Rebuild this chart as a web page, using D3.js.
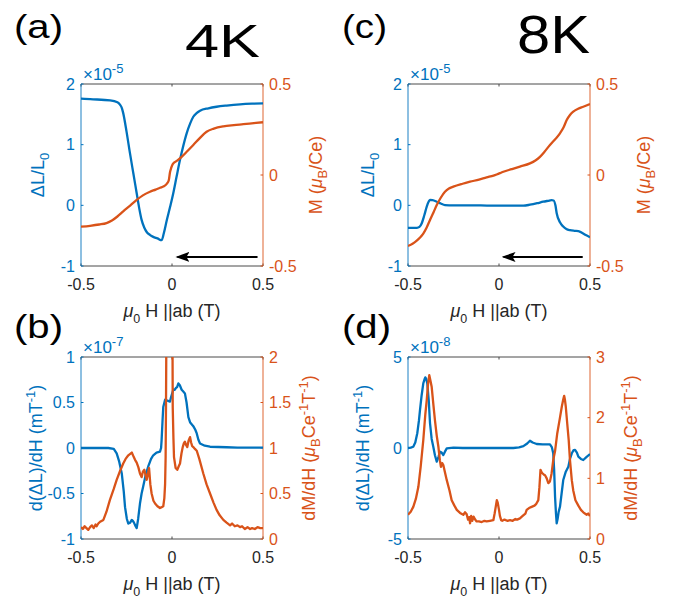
<!DOCTYPE html>
<html><head><meta charset="utf-8">
<script src="https://cdn.jsdelivr.net/npm/d3@7"></script>
<style>
html,body{margin:0;padding:0;background:#fff;}
svg{display:block;}
text{font-family:"Liberation Sans",Arial,sans-serif;}
</style></head>
<body>
<svg id="chart" width="673" height="598"></svg>
<script>
// ---------- DATA ----------
const xTicks = [-0.5, 0, 0.5];
const xTickLabels = ["-0.5", "0", "0.5"];

// Panel (a) 4K
const aH_dL = [-0.5,-0.45,-0.34,-0.3,-0.286,-0.275,-0.268,-0.25,-0.231,-0.212,-0.194,-0.18,-0.167,-0.152,-0.139,-0.12,-0.103,-0.08,-0.057,-0.045,-0.029,-0.01,0.007,0.025,0.044,0.062,0.081,0.1,0.117,0.135,0.154,0.2,0.245,0.3,0.374,0.44,0.5];
const aV_dL = [1.76,1.75,1.73,1.70,1.66,1.60,1.52,1.22,0.86,0.52,0.20,-0.05,-0.24,-0.37,-0.44,-0.49,-0.52,-0.545,-0.575,-0.46,-0.25,-0.02,0.2,0.47,0.75,0.98,1.19,1.35,1.46,1.52,1.56,1.60,1.625,1.645,1.665,1.675,1.68];
const aH_M = [-0.5,-0.45,-0.4,-0.36,-0.33,-0.3,-0.268,-0.23,-0.194,-0.16,-0.121,-0.09,-0.066,-0.045,-0.029,-0.018,-0.011,-0.004,0.004,0.03,0.053,0.085,0.117,0.15,0.19,0.23,0.282,0.34,0.392,0.45,0.5];
const aM_M = [-0.284,-0.279,-0.272,-0.264,-0.25,-0.228,-0.2,-0.168,-0.137,-0.112,-0.092,-0.08,-0.07,-0.062,-0.049,-0.03,0.015,0.04,0.06,0.08,0.1,0.132,0.165,0.2,0.238,0.255,0.267,0.274,0.279,0.285,0.29];
const aArrow = [0.47, 0.03, -0.85];

// Panel (c) 8K
const cH_dL = [-0.5,-0.451,-0.437,-0.425,-0.41,-0.397,-0.385,-0.379,-0.365,-0.342,-0.32,-0.297,-0.25,-0.2,-0.1,-0.013,0.05,0.134,0.17,0.21,0.243,0.27,0.289,0.3,0.31,0.317,0.335,0.353,0.37,0.39,0.415,0.436,0.46,0.48,0.5];
const cV_dL = [-0.37,-0.37,-0.355,-0.3,-0.16,-0.02,0.07,0.088,0.085,0.06,0.03,0.005,0.0,0.0,-0.002,-0.005,-0.005,-0.005,0.01,0.035,0.06,0.075,0.085,0.08,0.0,-0.13,-0.28,-0.35,-0.39,-0.41,-0.42,-0.425,-0.46,-0.495,-0.527];
const cH_M = [-0.5,-0.475,-0.452,-0.435,-0.416,-0.398,-0.379,-0.36,-0.342,-0.32,-0.297,-0.275,-0.251,-0.2,-0.159,-0.11,-0.068,-0.03,-0.013,0.005,0.024,0.07,0.115,0.17,0.2,0.225,0.25,0.28,0.31,0.335,0.355,0.372,0.39,0.408,0.435,0.463,0.5];
const cM_M = [-0.39,-0.378,-0.361,-0.345,-0.322,-0.29,-0.247,-0.206,-0.165,-0.125,-0.092,-0.074,-0.064,-0.048,-0.037,-0.025,-0.013,-0.003,0.003,0.01,0.018,0.032,0.046,0.064,0.08,0.1,0.128,0.165,0.198,0.229,0.262,0.302,0.33,0.348,0.364,0.375,0.39];
const cArrow = [0.46, 0.025, -0.85];

// Panel (b) 4K derivatives
const bH_dL = [-0.5,-0.35,-0.32,-0.304,-0.29,-0.276,-0.265,-0.258,-0.248,-0.24,-0.23,-0.221,-0.215,-0.209,-0.2,-0.194,-0.186,-0.176,-0.167,-0.158,-0.145,-0.13,-0.115,-0.103,-0.085,-0.066,-0.06,-0.057,-0.052,-0.048,-0.038,-0.025,-0.011,-0.005,0.007,0.015,0.022,0.028,0.035,0.043,0.053,0.062,0.071,0.08,0.09,0.1,0.117,0.128,0.136,0.145,0.154,0.18,0.209,0.3,0.36,0.5];
const bV_dL = [0,0,-0.01,-0.06,-0.15,-0.28,-0.48,-0.65,-0.78,-0.83,-0.82,-0.79,-0.8,-0.82,-0.86,-0.88,-0.78,-0.61,-0.5,-0.42,-0.3,-0.2,-0.12,-0.08,-0.05,-0.04,0.0,0.09,0.3,0.45,0.53,0.52,0.51,0.56,0.64,0.64,0.66,0.67,0.71,0.69,0.64,0.62,0.6,0.5,0.34,0.28,0.24,0.2,0.16,0.09,0.05,0.025,0.014,0.008,0.005,0.005];
const bH_dM = [-0.5,-0.49,-0.48,-0.47,-0.46,-0.45,-0.44,-0.43,-0.42,-0.414,-0.405,-0.395,-0.377,-0.36,-0.341,-0.32,-0.304,-0.285,-0.268,-0.255,-0.24,-0.221,-0.21,-0.203,-0.194,-0.185,-0.176,-0.167,-0.16,-0.152,-0.145,-0.139,-0.132,-0.126,-0.119,-0.112,-0.102,-0.093,-0.08,-0.066,-0.057,-0.048,-0.042,-0.038,-0.035,-0.033,-0.03,-0.026,-0.015,-0.002,0.002,0.004,0.008,0.011,0.02,0.029,0.037,0.044,0.052,0.059,0.065,0.071,0.078,0.084,0.091,0.099,0.105,0.111,0.117,0.126,0.136,0.15,0.172,0.19,0.209,0.228,0.245,0.262,0.282,0.3,0.319,0.33,0.345,0.36,0.374,0.385,0.4,0.415,0.429,0.44,0.455,0.47,0.485,0.5];
const bM_dM = [0.13,0.11,0.14,0.12,0.1,0.13,0.15,0.12,0.16,0.14,0.17,0.19,0.21,0.3,0.43,0.55,0.65,0.75,0.83,0.88,0.92,0.95,0.9,0.87,0.84,0.79,0.72,0.68,0.74,0.76,0.7,0.65,0.72,0.78,0.6,0.5,0.42,0.39,0.36,0.34,0.35,0.36,0.45,0.6,0.9,1.45,2.6,3.2,3.2,3.0,2.6,1.45,1.1,0.9,0.78,0.76,0.8,0.83,0.94,1.01,1.05,1.07,1.03,1.01,1.08,1.12,1.06,1.02,1.01,0.99,0.97,0.88,0.72,0.6,0.5,0.4,0.32,0.26,0.21,0.18,0.15,0.17,0.14,0.15,0.13,0.14,0.11,0.13,0.11,0.12,0.11,0.13,0.12,0.12];

// Panel (d) 8K derivatives
const dH_dL = [-0.5,-0.485,-0.471,-0.46,-0.449,-0.44,-0.434,-0.425,-0.416,-0.41,-0.405,-0.4,-0.394,-0.386,-0.379,-0.37,-0.361,-0.352,-0.342,-0.333,-0.324,-0.315,-0.306,-0.297,-0.287,-0.25,-0.2,-0.1,0.0,0.079,0.11,0.134,0.155,0.17,0.185,0.207,0.24,0.28,0.29,0.298,0.303,0.308,0.313,0.317,0.322,0.328,0.335,0.344,0.353,0.367,0.381,0.39,0.4,0.41,0.418,0.428,0.436,0.45,0.463,0.48,0.5];
const dV_dL = [0.0,0.02,0.07,0.3,0.81,1.5,2.09,2.9,3.55,3.75,3.88,3.8,3.55,2.6,1.36,0.5,0.07,-0.4,-0.75,-0.5,-0.2,-0.25,-0.385,-0.2,-0.02,0.02,0.0,0.0,0.0,0.0,0.03,0.1,0.25,0.4,0.3,0.22,0.2,0.2,0.05,-0.29,-1.2,-2.68,-3.6,-4.14,-3.9,-3.5,-3.23,-2.5,-1.76,-1.3,-1.03,-0.6,-0.29,-0.12,-0.11,-0.25,-0.48,-0.6,-0.66,-0.5,-0.33];
const dH_dM = [-0.5,-0.485,-0.471,-0.457,-0.443,-0.43,-0.416,-0.405,-0.397,-0.39,-0.383,-0.376,-0.37,-0.36,-0.352,-0.342,-0.333,-0.325,-0.319,-0.312,-0.306,-0.297,-0.287,-0.272,-0.26,-0.245,-0.232,-0.214,-0.196,-0.187,-0.178,-0.17,-0.164,-0.159,-0.153,-0.147,-0.14,-0.131,-0.123,-0.11,-0.095,-0.08,-0.068,-0.05,-0.031,-0.024,-0.018,-0.012,-0.007,0.0,0.005,0.012,0.018,0.03,0.045,0.061,0.075,0.09,0.1,0.115,0.13,0.145,0.152,0.165,0.179,0.195,0.205,0.216,0.222,0.228,0.234,0.24,0.247,0.253,0.262,0.271,0.28,0.289,0.298,0.308,0.32,0.335,0.345,0.353,0.358,0.362,0.367,0.375,0.383,0.39,0.4,0.408,0.42,0.436,0.45,0.463,0.472,0.482,0.49,0.5];
const dM_dM = [0.4,0.45,0.53,0.66,0.86,1.2,1.63,2.05,2.29,2.55,2.7,2.6,2.51,2.2,1.96,1.7,1.52,1.3,1.19,1.25,1.22,1.1,0.97,0.8,0.64,0.55,0.48,0.43,0.4,0.44,0.41,0.32,0.36,0.26,0.38,0.3,0.37,0.32,0.29,0.29,0.28,0.3,0.29,0.3,0.31,0.42,0.53,0.64,0.6,0.48,0.38,0.31,0.3,0.32,0.3,0.31,0.3,0.33,0.32,0.34,0.38,0.42,0.48,0.51,0.53,0.55,0.58,0.64,0.85,1.14,1.1,1.08,1.06,1.05,1.0,0.92,0.95,1.08,1.3,1.45,1.74,2.0,2.18,2.3,2.36,2.3,2.18,1.9,1.63,1.3,0.97,0.8,0.64,0.55,0.48,0.44,0.42,0.4,0.42,0.38];

// axis tick sets
const yTicksA_L = [-1, 0, 1, 2];           const yLabelsA_L = ["-1","0","1","2"];
const yTicksA_R = [-0.5, 0, 0.5];          const yLabelsA_R = ["-0.5","0","0.5"];
const yTicksB_L = [-1,-0.5,0,0.5,1];       const yLabelsB_L = ["-1","-0.5","0","0.5","1"];
const yTicksB_R = [0,0.5,1,1.5,2];         const yLabelsB_R = ["0","0.5","1","1.5","2"];
const yTicksD_L = [-5,0,5];                const yLabelsD_L = ["-5","0","5"];
const yTicksD_R = [0,1,2,3];               const yLabelsD_R = ["0","1","2","3"];

// ---------- DRAWING ----------
const BLUE = "#0072BD", ORANGE = "#D95319";
const svg = d3.select("#chart");
const defs = svg.append("defs");
defs.append("marker").attr("id","ah").attr("viewBox","0 0 14 11").attr("refX",12).attr("refY",5.5)
  .attr("markerWidth",14).attr("markerHeight",11).attr("markerUnits","userSpaceOnUse").attr("orient","auto")
  .append("path").attr("d","M0,0.5 L14,5.5 L0,10.5 L3,5.5 Z").attr("fill","#000");

function zip(a,b){ return a.map((v,i)=>[v,b[i]]); }

function panel(o){
  const W = 182, H = 182;
  const g = svg.append("g").attr("transform",`translate(${o.left},${o.top})`);
  const x = d3.scaleLinear().domain([-0.5,0.5]).range([0,W]);
  const yL = d3.scaleLinear().domain(o.yLdom).range([H,0]);
  const yR = d3.scaleLinear().domain(o.yRdom).range([H,0]);
  const cid = "clip"+o.id;
  defs.append("clipPath").attr("id",cid).append("rect").attr("x",0).attr("y",0).attr("width",W).attr("height",H);

  // top/bottom spines + ticks
  g.append("line").attr("x1",0).attr("x2",W).attr("y1",0).attr("y2",0).attr("stroke","#4a4a4a").attr("stroke-width",1);
  g.append("line").attr("x1",0).attr("x2",W).attr("y1",H).attr("y2",H).attr("stroke","#4a4a4a").attr("stroke-width",1);
  xTicks.forEach((t,i)=>{
    g.append("line").attr("x1",x(t)).attr("x2",x(t)).attr("y1",H).attr("y2",H-2.5).attr("stroke","#4a4a4a");
    g.append("line").attr("x1",x(t)).attr("x2",x(t)).attr("y1",0).attr("y2",2.5).attr("stroke","#4a4a4a");
    g.append("text").attr("x",x(t)).attr("y",H+24).attr("text-anchor","middle")
      .style("font-size","16px").attr("fill","#262626").text(xTickLabels[i]);
  });
  // left axis
  g.append("line").attr("x1",0).attr("x2",0).attr("y1",0).attr("y2",H).attr("stroke",BLUE).attr("stroke-opacity",0.75).attr("stroke-width",1.2);
  o.yLticks.forEach((t,i)=>{
    g.append("line").attr("x1",0).attr("x2",2.5).attr("y1",yL(t)).attr("y2",yL(t)).attr("stroke",BLUE);
    g.append("text").attr("x",-6).attr("y",yL(t)).attr("dy","0.36em").attr("text-anchor","end")
      .style("font-size","16px").attr("fill",BLUE).text(o.yLlabels[i]);
  });
  // right axis
  g.append("line").attr("x1",W).attr("x2",W).attr("y1",0).attr("y2",H).attr("stroke",ORANGE).attr("stroke-opacity",0.75).attr("stroke-width",1.2);
  o.yRticks.forEach((t,i)=>{
    g.append("line").attr("x1",W).attr("x2",W-2.5).attr("y1",yR(t)).attr("y2",yR(t)).attr("stroke",ORANGE);
    g.append("text").attr("x",W+6).attr("y",yR(t)).attr("dy","0.36em").attr("text-anchor","start")
      .style("font-size","16px").attr("fill",ORANGE).text(o.yRlabels[i]);
  });
  // exponent
  const ex = g.append("text").attr("x",2).attr("y",-4).style("font-size","17px").attr("fill",BLUE);
  ex.append("tspan").text("×10");
  ex.append("tspan").attr("dy",-7).style("font-size","13px").text(o.exp);

  // data
  const plot = g.append("g").attr("clip-path",`url(#${cid})`);
  const curve = o.smooth ? d3.curveMonotoneX : d3.curveLinear;
  const lineL = d3.line().x(d=>x(d[0])).y(d=>yL(d[1])).curve(curve);
  const lineR = d3.line().x(d=>x(d[0])).y(d=>yR(d[1])).curve(curve);
  plot.append("path").attr("d",lineL(o.blue)).attr("fill","none").attr("stroke",BLUE).attr("stroke-width",2.3).attr("stroke-linejoin","round");
  plot.append("path").attr("d",lineR(o.orange)).attr("fill","none").attr("stroke",ORANGE).attr("stroke-width",2.3).attr("stroke-linejoin","round");
  if(o.arrow){
    g.append("line").attr("x1",x(o.arrow[0])).attr("x2",x(o.arrow[1]))
      .attr("y1",yL(o.arrow[2])).attr("y2",yL(o.arrow[2]))
      .attr("stroke","#000").attr("stroke-width",2).attr("marker-end","url(#ah)");
  }

  // x label
  const xl = g.append("text").attr("x",W/2).attr("y",H+51).attr("text-anchor","middle").style("font-size","18px").attr("fill","#262626");
  xl.append("tspan").attr("font-style","italic").text("μ");
  xl.append("tspan").attr("dy",6).style("font-size","12.5px").text("0");
  xl.append("tspan").attr("dy",-6).text(" H ||ab (T)");

  // y labels
  const ll = g.append("text").attr("transform",`translate(${o.lLabX},${H/2}) rotate(-90)`).attr("text-anchor","middle")
    .style("font-size","18px").attr("fill",BLUE);
  o.lLab(ll);
  const rl = g.append("text").attr("transform",`translate(${o.rLabX},${H/2}) rotate(-90)`).attr("text-anchor","middle")
    .style("font-size","18px").attr("fill",ORANGE);
  o.rLab(rl);
}

function sub(t,s){ t.append("tspan").attr("dy",5).style("font-size","13px").text(s); }
function sup(t,s){ t.append("tspan").attr("dy",-7).style("font-size","13px").text(s); }
function labDL(t){
  t.append("tspan").text("ΔL/L");
  sub(t,"0");
}
function labM(t){
  t.append("tspan").text("M (");
  t.append("tspan").attr("font-style","italic").text("μ");
  sub(t,"B");
  t.append("tspan").attr("dy",-5).text("/Ce)");
}
function labdDL(t){
  t.append("tspan").text("d(ΔL)/dH (mT");
  sup(t,"-1");
  t.append("tspan").attr("dy",7).text(")");
}
function labdM(t){
  t.append("tspan").text("dM/dH (");
  t.append("tspan").attr("font-style","italic").text("μ");
  sub(t,"B");
  t.append("tspan").attr("dy",-5).text("Ce");
  sup(t,"-1");
  t.append("tspan").attr("dy",7).text("T");
  sup(t,"-1");
  t.append("tspan").attr("dy",7).text(")");
}

panel({id:"a",left:81,top:84,yLdom:[-1,2],yRdom:[-0.5,0.5],yLticks:yTicksA_L,yLlabels:yLabelsA_L,
  yRticks:yTicksA_R,yRlabels:yLabelsA_R,exp:"-5",smooth:true,blue:zip(aH_dL,aV_dL),orange:zip(aH_M,aM_M),
  arrow:aArrow,lLabX:-37,rLabX:241,lLab:labDL,rLab:labM});
panel({id:"c",left:408,top:84,yLdom:[-1,2],yRdom:[-0.5,0.5],yLticks:yTicksA_L,yLlabels:yLabelsA_L,
  yRticks:yTicksA_R,yRlabels:yLabelsA_R,exp:"-5",smooth:true,blue:zip(cH_dL,cV_dL),orange:zip(cH_M,cM_M),
  arrow:cArrow,lLabX:-34,rLabX:242,lLab:labDL,rLab:labM});
panel({id:"b",left:81,top:357,yLdom:[-1,1],yRdom:[0,2],yLticks:yTicksB_L,yLlabels:yLabelsB_L,
  yRticks:yTicksB_R,yRlabels:yLabelsB_R,exp:"-7",smooth:false,blue:zip(bH_dL,bV_dL),orange:zip(bH_dM,bM_dM),
  lLabX:-39,rLabX:234,lLab:labdDL,rLab:labdM});
panel({id:"d",left:408,top:357,yLdom:[-5,5],yRdom:[0,3],yLticks:yTicksD_L,yLlabels:yLabelsD_L,
  yRticks:yTicksD_R,yRlabels:yLabelsD_R,exp:"-8",smooth:false,blue:zip(dH_dL,dV_dL),orange:zip(dH_dM,dM_dM),
  lLabX:-39,rLabX:229,lLab:labdDL,rLab:labdM});

// panel letters and temperatures
function title(txt,x,y,size,len){
  svg.append("text").attr("x",x).attr("y",y).attr("font-family","'Open Sans',sans-serif").style("font-size",size+"px")
    .attr("fill","#000").attr("textLength",len).attr("lengthAdjust","spacingAndGlyphs").text(txt);
}
title("(a)",14,38,34,49);
title("(c)",342,38,34,45);
title("(b)",14,338,34,49);
title("(d)",342,338,34,49);
title("4K",185,57,47,75);
title("8K",517,53,53,73);
</script>
</body></html>
